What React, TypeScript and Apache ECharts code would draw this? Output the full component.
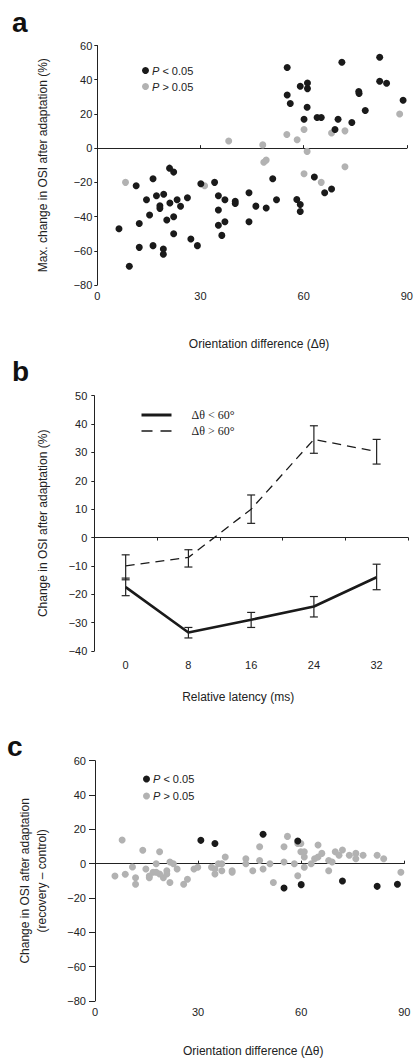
import React, { useEffect, useRef } from "react";
import * as echarts from "echarts";

// Panel a: max change in OSI vs orientation difference
const aSig: number[][] = [
  [21.0, -11.7], [22.2, -14.0], [16.2, -17.9], [11.3, -22], [30.1, -20.8], [34.1, -20],
  [17.2, -27.8], [19.3, -27], [14.3, -30.2], [18.2, -33.7], [18.2, -35.2], [21.1, -32.1],
  [23.2, -30.2], [24.2, -34], [26.2, -29], [35.2, -27.8], [37.1, -30.2], [40.1, -31.0],
  [40.1, -32.4], [15.2, -39.1], [22.2, -40.1], [20.2, -42], [35.2, -36.2], [12.2, -44],
  [35.2, -45.1], [37.1, -43], [6.3, -47.1], [22.2, -50], [36.2, -51], [27.2, -53.1],
  [29.1, -57], [12.2, -58], [16.2, -57], [19.2, -59], [19.2, -62], [9.3, -69],
  [55.2, 47.1], [71.1, 50.2], [82.1, 53.1], [59.0, 36.2], [61.1, 38.1], [61.1, 34.8],
  [55.2, 31.1], [56.1, 26.1], [61.0, 23.9], [76.0, 33.1], [76.1, 31.9], [82.1, 39.1],
  [84.1, 37.9], [88.9, 28.0], [77.9, 22], [60.1, 16.9], [63.9, 17.9], [65.1, 17.9],
  [70.0, 16.9], [69.1, 10.9], [74.0, 15],
  [51.0, -17.9], [44.1, -26.1], [46.1, -33.9], [49.1, -35], [52.1, -30.2], [44.1, -43],
  [58.0, -30], [59.0, -32.9], [59.0, -37], [63.1, -16.9], [66.1, -26.1], [68.1, -23.9],
];
const aNonSig: number[][] = [
  [38.2, 4.2], [8.2, -20], [31.2, -22], [55.1, 8], [60.1, 10.9], [58.1, 4.9], [68.1, 8.9],
  [72.0, 10.1], [87.9, 20], [48.1, 1.9], [61.0, -1.9], [48.4, -8.2], [49.1, -7],
  [60.1, -15], [65.1, -20], [72.0, -10.9],
];

// Panel b: change in OSI vs relative latency
const latencies = ["0", "8", "16", "24", "32"];
const bLowMean = [-17.5, -33.5, -29, -24.3, -14];
const bLowErrLo = [-20.5, -35.4, -31.7, -28, -18.4];
const bLowErrHi = [-14.3, -31.7, -26.4, -20.8, -9.4];
const bHighMean = [-10, -7, 10, 34.6, 30.3];
const bHighErrLo = [-14.9, -10.4, 5, 29.7, 25.9];
const bHighErrHi = [-6.1, -4.3, 15, 39.4, 34.6];

// Panel c: change in OSI (recovery - control)
const cSig: number[][] = [
  [30.8, 13.6], [34.9, 11.8], [48.9, 17.1], [59.0, 13.2], [55.0, -14.2], [60.0, -12.2],
  [72.0, -10.1], [82.1, -13.2], [88.0, -12.0],
];
const cNonSig: number[][] = [
  [5.8, -7.2], [7.9, 13.8], [8.8, -6.2], [10.9, -1.9], [11.8, -8.2], [11.8, -12], [13.9, 7.8],
  [14.8, -3.1], [15.8, -8.2], [15.8, -7.2], [16.9, -5], [17.8, 0], [17.8, -5], [18.8, 7],
  [18.8, -6], [19.9, -8.2], [20.9, -4.1], [20.9, -6], [21.8, 1], [21.8, -11], [22.8, 0],
  [23.9, -3.1], [25.8, -12], [26.9, -9.1], [28.8, -3.1], [29.9, -2.1], [33.9, -2.1],
  [34.9, -6], [34.9, -3.1], [35.9, 0], [36.9, 0], [36.9, -4.1], [37.9, 3.9], [39.9, -4.1],
  [39.9, -5], [43.9, 2.9], [43.9, 0], [45.9, -4.1], [47.9, 9.9], [47.9, 1.9], [48.9, -3.1],
  [50.9, 0], [51.9, -11], [55.0, 9.9], [55.0, 1], [56.0, 15.9], [58.0, 0], [59.0, -7],
  [59.0, 11.8], [59.9, 11.8], [59.9, 7], [60.9, 7], [60.9, 3.9], [60.9, -2.1], [62.9, 0],
  [63.9, 2.9], [64.9, 10.9], [64.9, 3.9], [66.0, 6], [68.0, 1.9], [68.0, -4.1], [69.0, 1],
  [69.9, 7], [71.0, 4.9], [72.0, 8], [74.0, 4.9], [75.9, 6], [75.9, 2.9], [78.0, 4.9],
  [82.1, 4.9], [84.0, 2.9], [89.0, -5],
];

const BLACK = "#1a1a1a";
const GRAY = "#b2b2b2";
const FONT = "Liberation Sans, Arial, sans-serif";
const AX = "#222";

function App() {
  const ref = useRef<HTMLDivElement>(null);
  useEffect(() => {
    document.body.style.margin = "0";
    const chart = echarts.init(ref.current!, null, { renderer: "svg" });

    const errData = (lo: number[], hi: number[]) => lo.map((v, i) => [i, v, hi[i]]);
    const errRender = (params: any, api: any) => {
      const x = api.value(0);
      const p1 = api.coord([x, api.value(1)]);
      const p2 = api.coord([x, api.value(2)]);
      const w = 4;
      const st = { stroke: AX, lineWidth: 1.2 };
      return {
        type: "group",
        children: [
          { type: "line", shape: { x1: p1[0], y1: p1[1], x2: p2[0], y2: p2[1] }, style: st },
          { type: "line", shape: { x1: p1[0] - w, y1: p1[1], x2: p1[0] + w, y2: p1[1] }, style: st },
          { type: "line", shape: { x1: p2[0] - w, y1: p2[1], x2: p2[0] + w, y2: p2[1] }, style: st },
        ],
      };
    };

    const labelAxis = (gridIndex: number, name: string, margin: number, gap: number, pad: number[]) => ({
      type: "value",
      gridIndex,
      min: 0,
      max: 90,
      interval: 30,
      axisLine: { show: false, onZero: false },
      axisTick: { show: false },
      splitLine: { show: false },
      axisLabel: { color: "#222", fontSize: 11, fontFamily: FONT, margin },
      name,
      nameLocation: "middle",
      nameGap: gap,
      nameTextStyle: { color: "#222", fontSize: 12, fontFamily: FONT, padding: pad },
    });
    const zeroAxis = (gridIndex: number) => ({
      type: "value",
      gridIndex,
      min: 0,
      max: 90,
      interval: 30,
      axisLine: { show: true, onZero: true, lineStyle: { color: AX, width: 1 } },
      axisTick: { show: true, length: 3, lineStyle: { color: AX } },
      axisLabel: { show: false },
      splitLine: { show: false },
    });

    const scatterLegendFmt = (name: string) => `{i|P}{n|${name.slice(1)}}`;
    const legendRich = {
      i: { fontStyle: "italic", fontSize: 11, fontFamily: FONT, color: "#222" },
      n: { fontSize: 11, fontFamily: FONT, color: "#222" },
    };

    const option: any = {
      animation: false,
      backgroundColor: "#fff",
      grid: [
        { left: 97.3, right: 7, top: 45.5, height: 239.5 },
        { left: 94.3, right: 8, top: 395.7, height: 255.3 },
        { left: 95, right: 11.7, top: 760.7, height: 240.3 },
      ],
      legend: [
        {
          data: ["P < 0.05", "P > 0.05"],
          orient: "vertical",
          left: 137,
          top: 59,
          icon: "circle",
          itemWidth: 7,
          itemHeight: 7,
          itemGap: 3,
          selectedMode: false,
          formatter: scatterLegendFmt,
          textStyle: { rich: legendRich, lineHeight: 13, padding: [0, 0, 0, -2] },
        },
        {
          data: [
            { name: "Δθ < 60°", lineStyle: { width: 3, type: "solid", color: BLACK } },
            { name: "Δθ > 60°", lineStyle: { width: 1.5, type: [11, 8], color: BLACK } },
          ],
          orient: "vertical",
          left: 135,
          top: 403,
          itemWidth: 30,
          itemHeight: 14,
          itemGap: 2,
          selectedMode: false,
          itemStyle: { color: "rgba(0,0,0,0)", borderWidth: 0, opacity: 0 },
          textStyle: { fontFamily: "Liberation Serif, Times New Roman, serif", fontSize: 12, color: "#222", lineHeight: 14, padding: [0, 0, 0, 15] },
        },
        {
          data: ["P < 0.05", "P > 0.05"],
          orient: "vertical",
          left: 138,
          top: 767.5,
          icon: "circle",
          itemWidth: 7,
          itemHeight: 7,
          itemGap: 4,
          selectedMode: false,
          formatter: scatterLegendFmt,
          textStyle: { rich: legendRich, lineHeight: 13, padding: [0, 0, 0, -2] },
        },
      ],
      xAxis: [
        labelAxis(0, "Orientation difference (Δθ)", 5, 53, [0, 0, 0, 14]),
        zeroAxis(0),
        {
          type: "category",
          gridIndex: 1,
          data: latencies,
          boundaryGap: true,
          axisLine: { show: false, onZero: false },
          axisTick: { show: false },
          axisLabel: { color: "#222", fontSize: 11, fontFamily: FONT, margin: 8 },
          name: "Relative latency (ms)",
          nameLocation: "middle",
          nameGap: 40,
          nameTextStyle: { color: "#222", fontSize: 12, fontFamily: FONT, padding: [0, 26, 0, 0] },
        },
        {
          type: "category",
          gridIndex: 1,
          data: latencies,
          boundaryGap: true,
          axisLine: { show: true, onZero: true, lineStyle: { color: AX, width: 1 } },
          axisTick: { show: true, inside: true, length: 3, lineStyle: { color: AX } },
          axisLabel: { show: false },
        },
        labelAxis(2, "Orientation difference (Δθ)", 5, 44, [0, 0, 0, 7]),
        zeroAxis(2),
      ],
      yAxis: [
        {
          type: "value",
          gridIndex: 0,
          min: -80,
          max: 60,
          interval: 20,
          axisLine: { show: true, onZero: false, lineStyle: { color: AX, width: 1 } },
          axisTick: { show: true, length: 3, lineStyle: { color: AX } },
          splitLine: { show: false },
          axisLabel: { color: "#222", fontSize: 11, fontFamily: FONT, margin: 5, formatter: (v: number) => String(v).replace("-", "\u2212") },
          name: "Max. change in OSI after adaptation (%)",
          nameLocation: "middle",
          nameGap: 48,
          nameTextStyle: { color: "#222", fontSize: 12, fontFamily: FONT },
        },
        {
          type: "value",
          gridIndex: 1,
          min: -40,
          max: 50,
          interval: 10,
          axisLine: { show: true, onZero: false, lineStyle: { color: AX, width: 1 } },
          axisTick: { show: true, length: 3, lineStyle: { color: AX } },
          splitLine: { show: false },
          axisLabel: { color: "#222", fontSize: 11, fontFamily: FONT, margin: 7, formatter: (v: number) => String(v).replace("-", "\u2212") },
          name: "Change in OSI after adaptation (%)",
          nameLocation: "middle",
          nameGap: 45,
          nameTextStyle: { color: "#222", fontSize: 12, fontFamily: FONT },
        },
        {
          type: "value",
          gridIndex: 2,
          min: -80,
          max: 60,
          interval: 20,
          axisLine: { show: true, onZero: false, lineStyle: { color: AX, width: 1 } },
          axisTick: { show: true, length: 6, lineStyle: { color: AX } },
          splitLine: { show: false },
          axisLabel: { color: "#222", fontSize: 11, fontFamily: FONT, margin: 9, formatter: (v: number) => String(v).replace("-", "\u2212") },
          name: "Change in OSI after adaptation\n(recovery \u2013 control)",
          nameLocation: "middle",
          nameGap: 45,
          nameTextStyle: { color: "#222", fontSize: 12, fontFamily: FONT, lineHeight: 17 },
        },
      ],
      series: [
        { name: "P > 0.05", type: "scatter", xAxisIndex: 0, yAxisIndex: 0, data: aNonSig, symbolSize: 7, itemStyle: { color: GRAY, opacity: 1 } },
        { name: "P < 0.05", type: "scatter", xAxisIndex: 0, yAxisIndex: 0, data: aSig, symbolSize: 7, itemStyle: { color: BLACK, opacity: 1 } },
        {
          name: "Δθ < 60°", type: "line", xAxisIndex: 2, yAxisIndex: 1, data: bLowMean,
          symbol: "none", lineStyle: { color: BLACK, width: 2.6, type: "solid" }, itemStyle: { color: BLACK },
        },
        {
          name: "Δθ > 60°", type: "line", xAxisIndex: 2, yAxisIndex: 1, data: bHighMean,
          symbol: "none", lineStyle: { color: BLACK, width: 1.3, type: [9, 6] }, itemStyle: { color: BLACK },
        },
        { type: "custom", xAxisIndex: 2, yAxisIndex: 1, data: errData(bLowErrLo, bLowErrHi), renderItem: errRender, encode: { x: 0, y: [1, 2] }, z: 5 },
        { type: "custom", xAxisIndex: 2, yAxisIndex: 1, data: errData(bHighErrLo, bHighErrHi), renderItem: errRender, encode: { x: 0, y: [1, 2] }, z: 5 },
        { name: "P > 0.05", type: "scatter", xAxisIndex: 4, yAxisIndex: 2, data: cNonSig, symbolSize: 7, itemStyle: { color: GRAY, opacity: 1 } },
        { name: "P < 0.05", type: "scatter", xAxisIndex: 4, yAxisIndex: 2, data: cSig, symbolSize: 7, itemStyle: { color: BLACK, opacity: 1 } },
      ],
      graphic: [
        { type: "text", left: 12, top: 8, style: { text: "a", font: `bold 28px ${FONT}`, fill: "#111" } },
        { type: "text", left: 12, top: 357, style: { text: "b", font: `bold 28px ${FONT}`, fill: "#111" } },
        { type: "text", left: 7, top: 732, style: { text: "c", font: `bold 28px ${FONT}`, fill: "#111" } },
      ],
    };
    chart.setOption(option);
    return () => chart.dispose();
  }, []);
  return <div ref={ref} style={{ width: 416, height: 1059 }} />;
}

export default App;
